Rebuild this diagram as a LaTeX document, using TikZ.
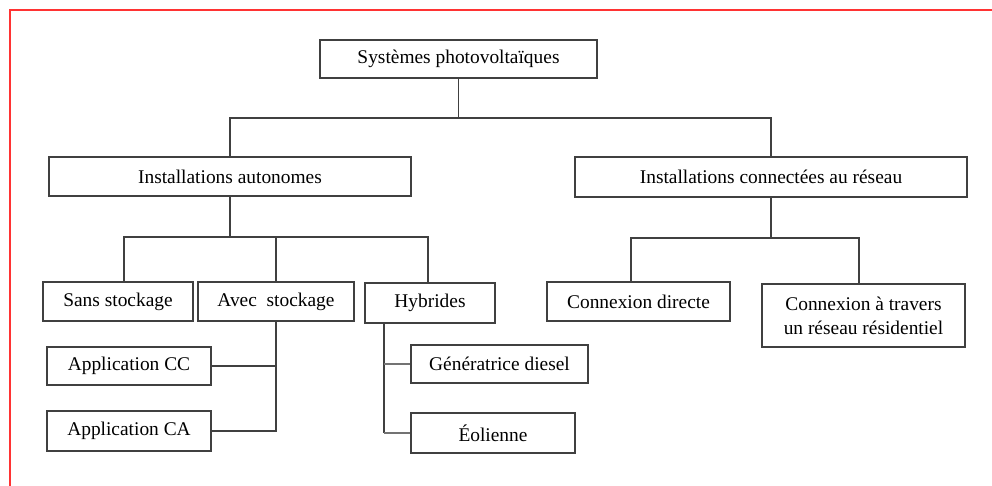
\documentclass[tikz,border=0pt]{standalone}
\usepackage{fontspec}
\setmainfont{Liberation Serif}
\begin{document}
\begin{tikzpicture}[x=0.5pt,y=-0.5pt,
    box/.style={draw=black!75,line width=0.8pt,rectangle,inner sep=2pt,
      font=\fontsize{9.7}{12}\selectfont,align=center},
    link/.style={draw=black!75,line width=0.8pt},
    thinlink/.style={draw=black!55,line width=0.6pt}]
  \useasboundingbox (0,0) rectangle (992,486);
  \draw[red!80,line width=1pt] (992,10) -- (10,10) -- (10,486);
  \draw
    (458.5,59) node[box,minimum width=138.5pt,minimum height=19pt] (top){Systèmes photovoltaïques}
    (230,176.5) node[box,minimum width=181pt,minimum height=19.5pt] (auto){Installations autonomes}
    (771,177) node[box,minimum width=196pt,minimum height=20pt] (conn){Installations connectées au réseau}
    (118,301.5) node[box,minimum width=75pt,minimum height=19.5pt] (sans){Sans stockage}
    (276,301.5) node[box,minimum width=78pt,minimum height=19.5pt] (avec){Avec\ \ stockage}
    (430,303) node[box,minimum width=65pt,minimum height=20pt] (hyb){Hybrides}
    (129,366) node[box,minimum width=82pt,minimum height=19pt] (appcc){Application CC}
    (129,431) node[box,minimum width=82pt,minimum height=20pt] (appca){Application CA}
    (499.5,364) node[box,minimum width=88.5pt,minimum height=19pt] (gen){Génératrice diesel}
    (493,433) node[box,minimum width=82pt,minimum height=20pt] (eol){Éolienne}
    (638.5,301.5) node[box,minimum width=91.5pt,minimum height=19.5pt] (dir){Connexion directe}
    (863.5,315.5) node[box,minimum width=101.5pt,minimum height=31.5pt] (trav){Connexion à travers\\un réseau résidentiel};
  \coordinate (bar1) at (458.5,118);
  \coordinate (bar2) at (230,237);
  \coordinate (bar3) at (771,238);
  \coordinate (stem) at (384,323);
  \begin{scope}[link]
    \draw (top.south) -- (bar1);
    \draw (auto.north) |- (bar1) -| (conn.north);
    \draw (auto.south) -- (bar2);
    \draw ([xshift=3pt]sans.north) |- (bar2) -| ([xshift=-1pt]hyb.north);
    \draw (avec.north) -- (avec.north |- bar2);
    \draw (avec.south) |- (appca.east);
    \draw (appcc.east) -| (avec.south);
    \draw (stem) -- (stem |- eol.west);
    \draw (conn.south) -- (bar3);
    \draw ([xshift=-3.75pt]dir.north) |- (bar3) -| ([xshift=-2.25pt]trav.north);
  \end{scope}
  \begin{scope}[thinlink]
    \draw (stem |- gen.west) -- (gen.west);
    \draw (stem |- eol.west) -- (eol.west);
  \end{scope}
\end{tikzpicture}
\end{document}
